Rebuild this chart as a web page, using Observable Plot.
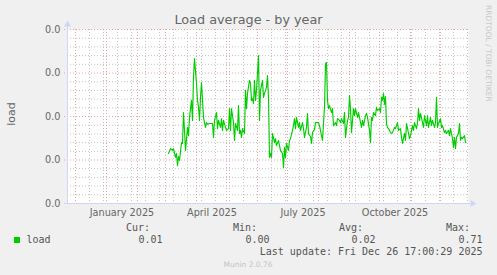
<!DOCTYPE html>
<html>
<head>
<meta charset="utf-8">
<script src="https://cdn.jsdelivr.net/npm/d3@7"></script>
<script src="https://cdn.jsdelivr.net/npm/@observablehq/plot@0.6"></script>
<style>
  html, body { margin: 0; padding: 0; background: #f0f0f0; }
  #chart { width: 497px; height: 275px; }
</style>
</head>
<body>
<div id="chart"></div>
<script>
// ---- data ----
const title = "Load average - by year";
const yLabel = "load";
const seriesName = "load";
const baseDate = "2025-01-01";
// day offsets from 2025-01-01
const days = [
  62,64,66,67,69,70,71,72,73,75,76,77,78,79,81,82,83,85,86,87,88,90,91,92,93,94,95,96,97,
  99,100,101,103,105,106,107,108,110,111,112,114,115,116,117,119,120,122,123,124,125,127,128,129,131,132,133,
  134,135,136,138,139,140,141,143,144,145,146,147,148,149,150,152,153,154,156,157,158,160,161,162,163,164,165,166,
  168,169,170,172,173,174,176,177,178,179,180,182,183,184,186,187,188,189,190,192,193,194,196,197,198,200,201,202,204,205,206,208,
  209,211,212,213,215,216,217,218,219,220,221,222,223,225,226,227,229,230,231,233,234,235,237,238,239,241,242,243,244,245,
  247,248,249,251,252,253,255,256,257,259,260,261,263,264,265,266,267,269,270,271,273,274,275,276,277,278,279,280,281,282,
  284,285,286,288,289,290,291,292,294,295,296,298,299,300,302,303,304,306,307,308,310,311,312,313,314,316,317,318,320,321,322,
  324,325,326,328,329,330,331,332,334,335,336,338,339,340,342,343,344,346,347,348,349,350,352,353,354,355,356,358,359
];
const loads = [
  .0115,.0126,.0122,.0126,.0106,.0115,.0087,.0108,.0099,.0140,.0138,.0209,.0168,.0122,.0175,.0156,.0198,.0237,.0191,.0290,.0333,.0276,.0237,.0221,.0191,.0244,.0278,.0237,.0198,
  .0175,.0186,.0182,.0184,.0184,.0184,.0152,.0191,.0209,.0172,.0191,.0175,.0195,.0168,.0191,.0175,.0168,.0172,.0218,.0168,.0218,.0186,.0145,.0184,.0168,.0225,.0161,
  .0168,.0152,.0172,.0161,.0260,.0218,.0253,.0283,.0276,.0237,.0241,.0230,.0283,.0237,.0260,.0340,.0191,.0260,.0283,.0244,.0253,.0267,.0294,.0244,.0106,.0115,.0106,.0161,
  .0140,.0149,.0133,.0145,.0133,.0122,.0115,.0083,.0129,.0106,.0138,.0122,.0145,.0149,.0168,.0179,.0195,.0172,.0198,.0175,.0186,.0168,.0186,.0172,.0152,.0175,.0207,.0161,.0154,.0138,.0163,.0170,
  .0186,.0186,.0186,.0179,.0156,.0145,.0184,.0221,.0322,.0324,.0237,.0218,.0225,.0209,.0218,.0179,.0186,.0179,.0195,.0191,.0186,.0195,.0184,.0209,.0152,.0191,.0198,.0248,.0218,.0163,
  .0218,.0202,.0218,.0198,.0209,.0198,.0175,.0191,.0179,.0202,.0207,.0198,.0168,.0140,.0198,.0191,.0209,.0202,.0221,.0214,.0218,.0209,.0244,.0237,.0253,.0228,.0246,.0182,.0175,.0172,
  .0163,.0161,.0163,.0175,.0172,.0179,.0186,.0168,.0172,.0152,.0138,.0161,.0145,.0184,.0161,.0149,.0156,.0179,.0168,.0186,.0172,.0186,.0218,.0191,.0207,.0186,.0175,.0202,.0179,.0202,.0175,
  .0198,.0179,.0191,.0175,.0186,.0244,.0175,.0184,.0195,.0175,.0179,.0163,.0168,.0161,.0168,.0156,.0172,.0149,.0129,.0152,.0126,.0152,.0161,.0184,.0145,.0152,.0149,.0156,.0140
];
const xDomain = ["2024-11-23", "2025-12-29"];
const yDomain = [0, 0.04];
const yTicks = [0, 0.01, 0.02, 0.03, 0.04];
const xLabelDates = ["2025-01-16T12:00Z", "2025-04-16T12:00Z", "2025-07-16T12:00Z", "2025-10-16T12:00Z"];
const monthLines = ["2024-12-01","2025-01-01","2025-02-01","2025-03-01","2025-04-01","2025-05-01","2025-06-01",
  "2025-07-01","2025-08-01","2025-09-01","2025-10-01","2025-11-01","2025-12-01"];
const statLabels = ["Cur:", "Min:", "Avg:", "Max:"];
const statValues = ["0.01", "0.00", "0.02", "0.71"];
const lastUpdate = "Last update: Fri Dec 26 17:00:29 2025";
const credit = "Munin 2.0.76";
const watermark = "RRDTOOL / TOBI OETIKER";

// ---- build ----
const base = new Date(baseDate + "T00:00Z").getTime();
const data = days.map((d, i) => ({date: new Date(base + d * 864e5), load: loads[i]}));
const xmin = new Date(xDomain[0] + "T00:00Z"), xmax = new Date(xDomain[1] + "T00:00Z");
const minorDates = d3.utcDay.range(new Date("2024-12-15T00:00Z"), xmax, 14);
const minorY = d3.range(1, 20).filter(i => i % 5 !== 0).map(i => i * 0.002);
const axisColor = "#CFD6F8", majorColor = "#e8a4a4", minorColor = "#c2c2c2", fontColor = "#666";

const chart = Plot.plot({
  width: 497, height: 275,
  marginTop: 29, marginBottom: 72, marginLeft: 67, marginRight: 29,
  style: {background: "#f0f0f0", fontFamily: "DejaVu Sans", fontSize: "9.7px", color: fontColor, overflow: "visible"},
  x: {type: "utc", domain: [xmin, xmax]},
  y: {domain: yDomain},
  marks: [
    Plot.frame({fill: "white", stroke: "none"}),
    Plot.ruleX(minorDates, {stroke: minorColor, strokeDasharray: "1,2"}),
    Plot.ruleY(minorY, {stroke: minorColor, strokeDasharray: "1,2"}),
    Plot.ruleX(monthLines.map(s => new Date(s + "T00:00Z")), {stroke: majorColor, strokeDasharray: "1,2", insetBottom: -3}),
    Plot.ruleY(yTicks.slice(1), {stroke: majorColor, strokeDasharray: "1,2", insetLeft: -3}),
    Plot.axisY({ticks: yTicks, tickSize: 0, tickPadding: 7, tickFormat: d3.format(".1f"), label: null}),
    Plot.axisX({ticks: xLabelDates.map(s => new Date(s)), tickSize: 0, tickPadding: 6, tickFormat: d3.utcFormat("%B %Y"), label: null}),
    Plot.ruleY([0], {stroke: axisColor, insetLeft: -3, insetRight: -2}),
    Plot.ruleX([xmin], {stroke: axisColor, insetTop: -5}),
    Plot.dot([{x: xmin, y: yDomain[1]}], {x: "x", y: "y", symbol: "triangle", r: 2.6, fill: axisColor, stroke: "none", dy: -5}),
    Plot.dot([{x: xmax, y: 0}], {x: "x", y: "y", symbol: "triangle", r: 2.6, fill: axisColor, stroke: "none", dx: 4, rotate: 90}),
    Plot.line(data, {x: "date", y: "load", stroke: "#00cc00", strokeWidth: 1.15})
  ]
});
document.getElementById("chart").appendChild(chart);

// ---- surrounding texts ----
const svg = d3.select(chart);
svg.append("text").attr("x", 248.5).attr("y", 24).attr("text-anchor", "middle")
  .attr("font-family", "DejaVu Sans").attr("font-size", "12.8px").attr("fill", fontColor).text(title);
svg.append("text").attr("transform", "translate(15,114) rotate(-90)").attr("text-anchor", "middle")
  .attr("font-family", "DejaVu Sans").attr("font-size", "11px").attr("fill", fontColor).text(yLabel);
svg.append("text").attr("transform", "translate(485.5,5) rotate(90)").attr("text-anchor", "start")
  .attr("font-family", "DejaVu Sans").attr("font-size", "7.5px").attr("fill", "#c8c8c8").text(watermark);

const mono = "DejaVu Sans Mono";
const headerRight = [150, 257, 363, 470];
statLabels.forEach((s, i) => {
  svg.append("text").attr("x", headerRight[i]).attr("y", 231).attr("text-anchor", "end")
    .attr("font-family", mono).attr("font-size", "10px").attr("fill", "#555").text(s);
  svg.append("text").attr("x", headerRight[i] + 12.5).attr("y", 243).attr("text-anchor", "end")
    .attr("font-family", mono).attr("font-size", "10px").attr("fill", "#555").text(statValues[i]);
});
svg.append("rect").attr("x", 14).attr("y", 237).attr("width", 6).attr("height", 6).attr("fill", "#00cc00");
svg.append("text").attr("x", 26.5).attr("y", 243).attr("text-anchor", "start").attr("font-family", mono)
  .attr("font-size", "10px").attr("fill", "#555").text(seriesName);
svg.append("text").attr("x", 482.5).attr("y", 255).attr("text-anchor", "end").attr("font-family", mono)
  .attr("font-size", "10px").attr("fill", "#555").text(lastUpdate);
svg.append("text").attr("x", 248).attr("y", 266.5).attr("text-anchor", "middle").attr("font-family", "DejaVu Sans")
  .attr("font-size", "7.5px").attr("fill", "#c4c4c4").text(credit);
</script>
</body>
</html>
